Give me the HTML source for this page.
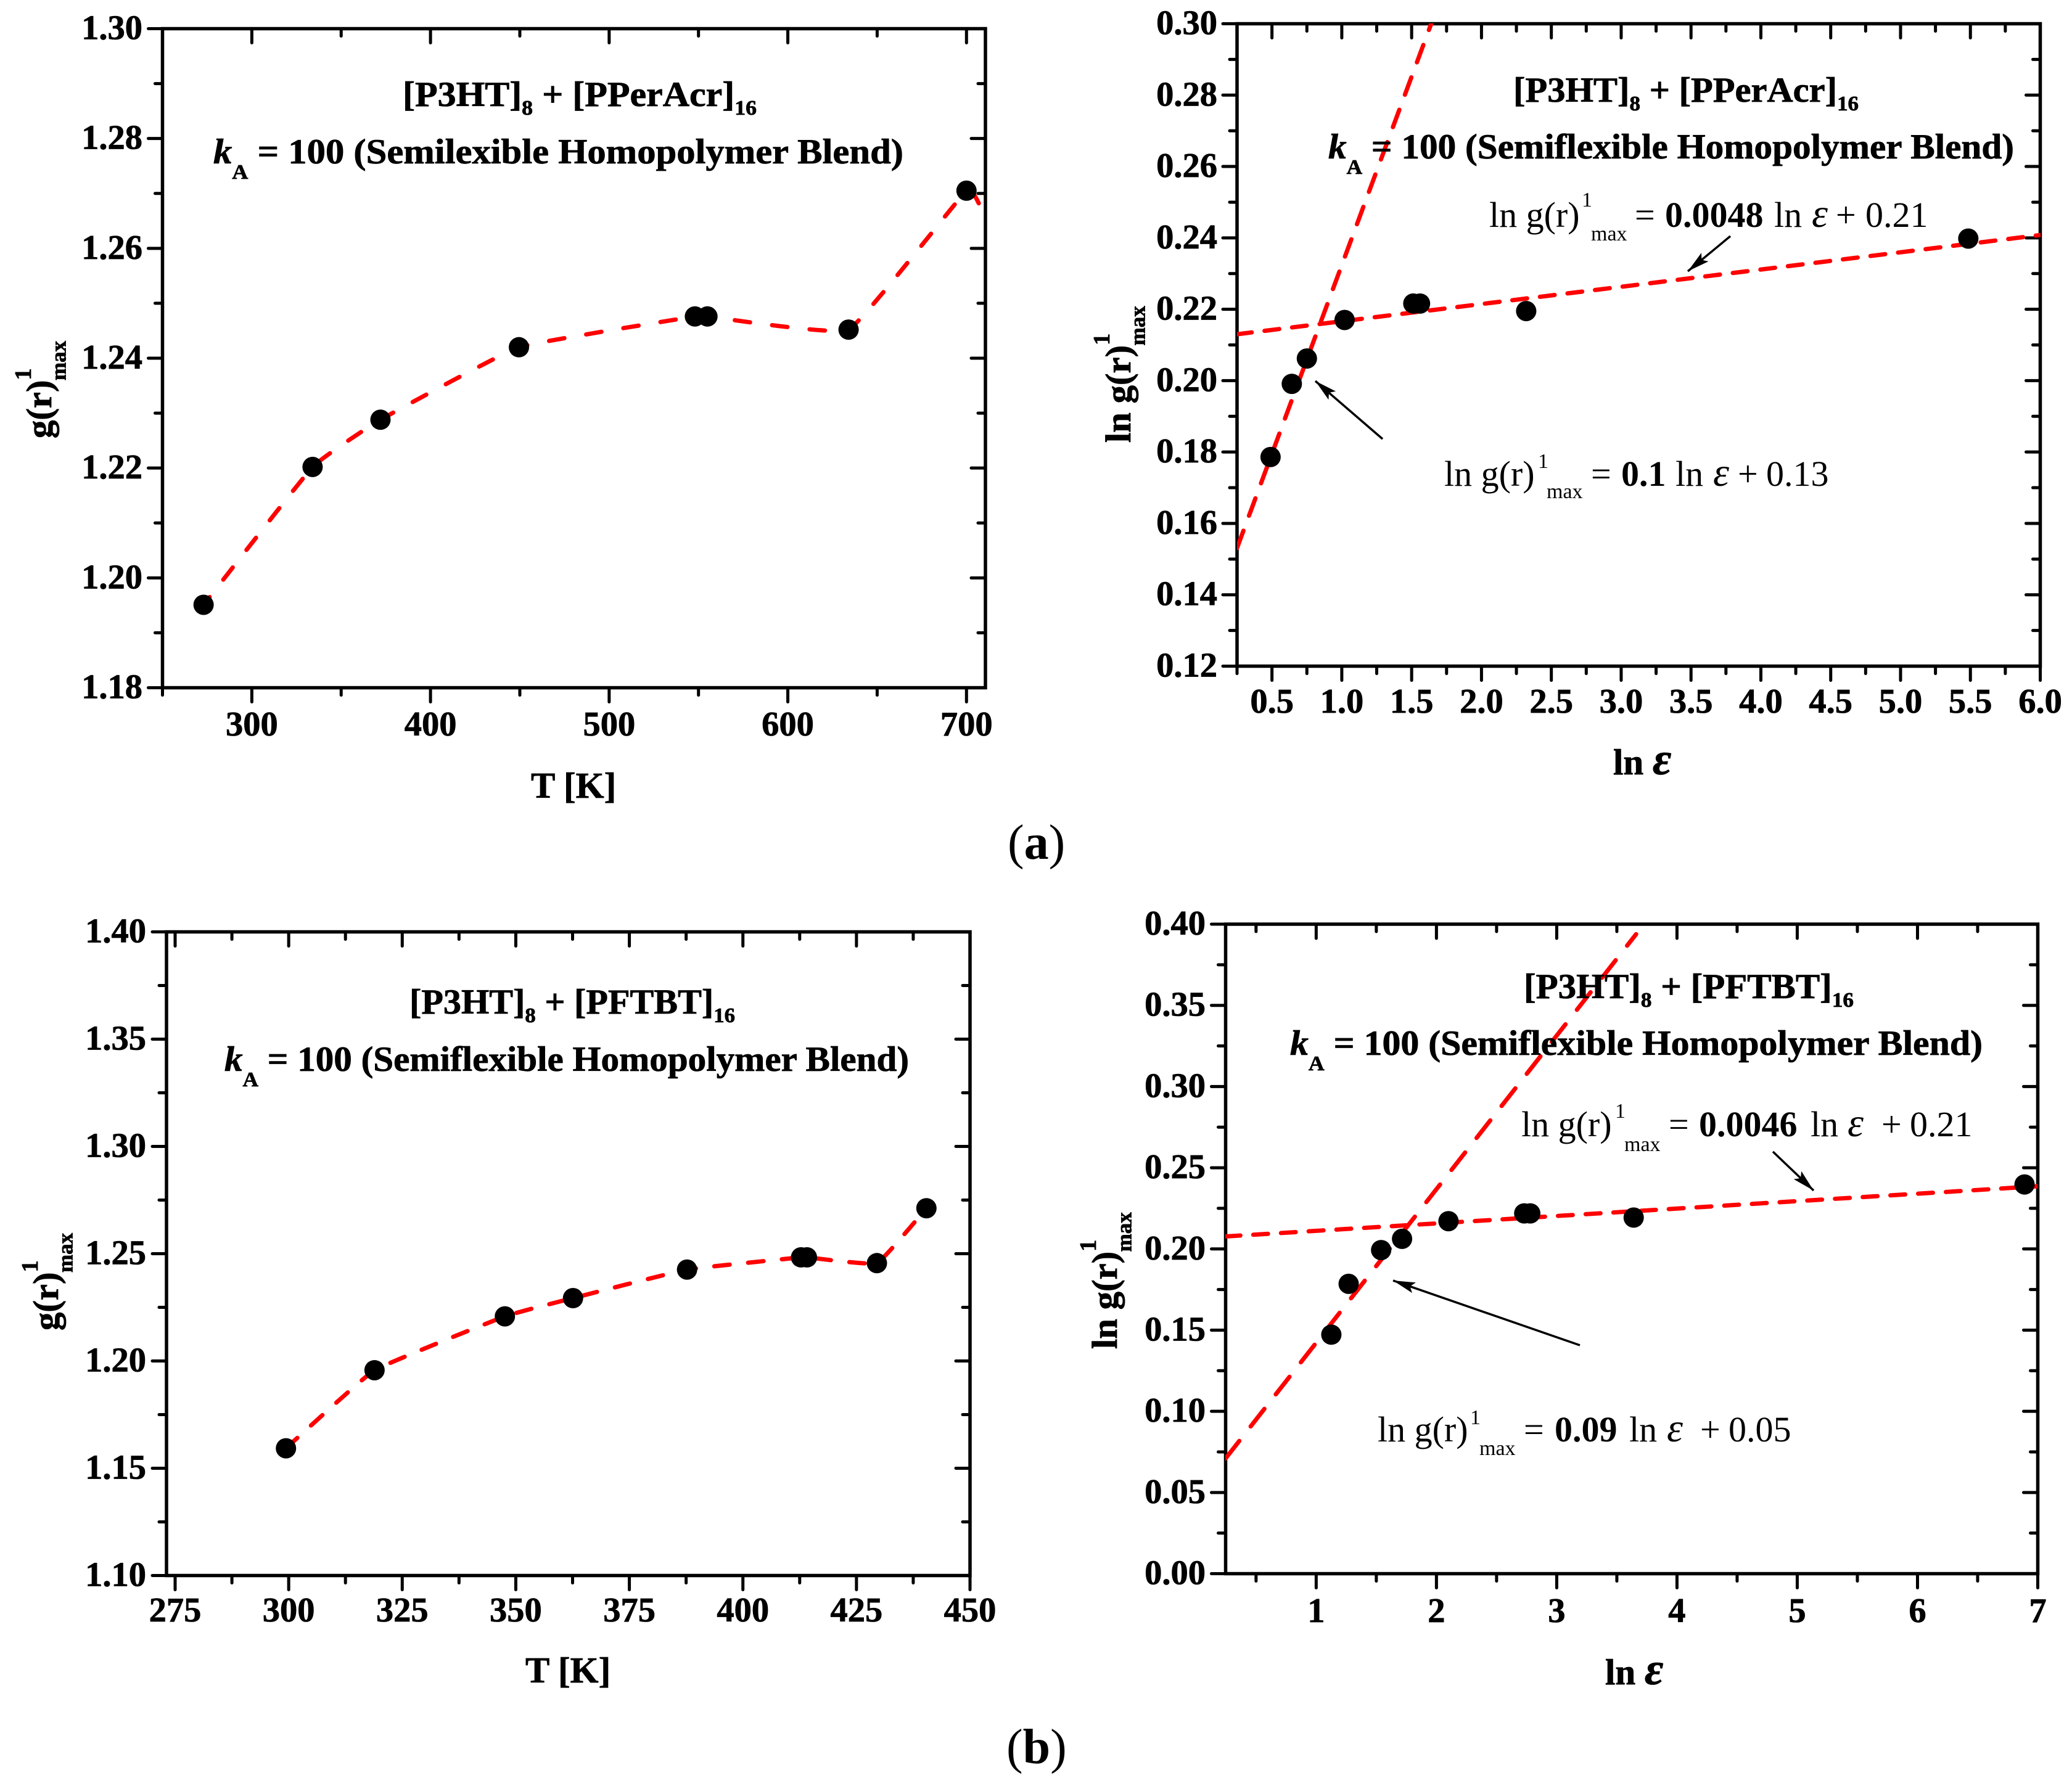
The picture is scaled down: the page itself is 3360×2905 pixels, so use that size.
<!DOCTYPE html>
<html lang="en">
<head>
<meta charset="utf-8">
<title>g(r) max versus temperature and ln epsilon</title>
<style>
html,body{margin:0;padding:0;background:#fff;}
svg{display:block;}
text{font-family:"Liberation Serif",serif;fill:#000;}
.b{font-weight:bold;}
.tick{font-weight:bold;font-size:56.5px;stroke:#000;stroke-width:.8px;}
.t{font-weight:bold;font-size:57px;stroke:#000;stroke-width:.8px;}
.ax{font-weight:bold;font-size:59px;stroke:#000;stroke-width:.8px;}
.sm{font-size:34px;}
.sup{font-size:37px;}
.eq{font-size:58px;}
.ge{font-size:66px;font-style:italic;}
</style>
</head>
<body>
<svg id="figure" xmlns="http://www.w3.org/2000/svg" width="3360" height="2905" viewBox="0 0 3360 2905">
<defs>
<marker id="arrow-head" markerUnits="userSpaceOnUse" markerWidth="40" markerHeight="24" refX="36" refY="12" orient="auto"><path d="M0 3 L36 12 L0 21 L7 12 Z" fill="#000"/></marker>
<clipPath id="clip-a"><rect x="263" y="46" width="1335" height="1069"/></clipPath>
<clipPath id="clip-b"><rect x="2006" y="38" width="1303" height="1042"/></clipPath>
<clipPath id="clip-c"><rect x="270" y="1511" width="1303" height="1044"/></clipPath>
<clipPath id="clip-d"><rect x="1987" y="1499" width="1317" height="1054"/></clipPath>
</defs>
<rect width="3360" height="2905" fill="#fff"/>

<g id="panel-a"></g>
<g id="panel-b"></g>
<g id="panel-c"></g>
<g id="panel-d"></g>

<!-- Panel A text -->
<text class="t" x="653" y="172" textLength="574" lengthAdjust="spacingAndGlyphs">[P3HT]<tspan class="sm" dy="14">8</tspan><tspan dy="-14"> + [PPerAcr]</tspan><tspan class="sm" dy="14">16</tspan></text>
<text class="t" x="346" y="265" textLength="1119" lengthAdjust="spacingAndGlyphs"><tspan font-style="italic">k</tspan><tspan class="sm" dy="25">A</tspan><tspan dy="-25"> = 100 (Semilexible Homopolymer Blend)</tspan></text>
<text class="ax" x="861" y="1294">T [K]</text>
<text class="t" transform="translate(83,711) rotate(-90) scale(1.03,1.03)">g(r)<tspan class="sup" dy="-32">1</tspan><tspan class="sm" dx="-19" dy="55">max</tspan></text>

<!-- Panel B text -->
<text class="t" x="2454" y="165" textLength="560" lengthAdjust="spacingAndGlyphs">[P3HT]<tspan class="sm" dy="14">8</tspan><tspan dy="-14"> + [PPerAcr]</tspan><tspan class="sm" dy="14">16</tspan></text>
<text class="t" x="2154" y="257" textLength="1112" lengthAdjust="spacingAndGlyphs"><tspan font-style="italic">k</tspan><tspan class="sm" dy="25">A</tspan><tspan dy="-25"> = 100 (Semiflexible Homopolymer Blend)</tspan></text>
<text class="ax" x="2616" y="1256">ln <tspan font-style="italic" font-size="74">ε</tspan></text>
<text class="t" transform="translate(1833,718) rotate(-90) scale(1.03,1.03)">ln g(r)<tspan class="sup" dy="-33">1</tspan><tspan class="sm" dx="-19" dy="56">max</tspan></text>
<text class="eq"><tspan x="2415" y="368">ln g(r)</tspan><tspan class="sm" x="2565" y="335">1</tspan><tspan class="sm" x="2580" y="390">max</tspan><tspan x="2651" y="368">=</tspan><tspan class="b" x="2700" y="368">0.0048</tspan><tspan x="2877" y="368">ln</tspan><tspan class="ge" x="2938" y="368">ε</tspan><tspan x="2977" y="368">+</tspan><tspan x="3025" y="368">0.21</tspan></text>
<text class="eq"><tspan x="2342" y="788">ln g(r)</tspan><tspan class="sm" x="2494" y="759">1</tspan><tspan class="sm" x="2508" y="808">max</tspan><tspan x="2580" y="788">=</tspan><tspan class="b" x="2629" y="788">0.1</tspan><tspan x="2717" y="788">ln</tspan><tspan class="ge" x="2778" y="788">ε</tspan><tspan x="2818" y="788">+</tspan><tspan x="2864" y="788">0.13</tspan></text>
<line x1="2806" y1="383" x2="2737" y2="440" stroke="#000" stroke-width="3.5" marker-end="url(#arrow-head)"/>
<line x1="2242" y1="712" x2="2133" y2="618" stroke="#000" stroke-width="3.5" marker-end="url(#arrow-head)"/>

<!-- Panel C text -->
<text class="t" x="664" y="1644" textLength="528" lengthAdjust="spacingAndGlyphs">[P3HT]<tspan class="sm" dy="14">8</tspan><tspan dy="-14"> + [PFTBT]</tspan><tspan class="sm" dy="14">16</tspan></text>
<text class="t" x="364" y="1737" textLength="1110" lengthAdjust="spacingAndGlyphs"><tspan font-style="italic">k</tspan><tspan class="sm" dy="25">A</tspan><tspan dy="-25"> = 100 (Semiflexible Homopolymer Blend)</tspan></text>
<text class="ax" x="852" y="2729">T [K]</text>
<text class="t" transform="translate(94,2158) rotate(-90) scale(1.03,1.03)">g(r)<tspan class="sup" dy="-32">1</tspan><tspan class="sm" dx="-19" dy="55">max</tspan></text>

<!-- Panel D text -->
<text class="t" x="2471" y="1619" textLength="535" lengthAdjust="spacingAndGlyphs">[P3HT]<tspan class="sm" dy="14">8</tspan><tspan dy="-14"> + [PFTBT]</tspan><tspan class="sm" dy="14">16</tspan></text>
<text class="t" x="2092" y="1711" textLength="1123" lengthAdjust="spacingAndGlyphs"><tspan font-style="italic">k</tspan><tspan class="sm" dy="25">A</tspan><tspan dy="-25"> = 100 (Semiflexible Homopolymer Blend)</tspan></text>
<text class="ax" x="2603" y="2732">ln <tspan font-style="italic" font-size="74">ε</tspan></text>
<text class="t" transform="translate(1811,2188) rotate(-90) scale(1.03,1.03)">ln g(r)<tspan class="sup" dy="-33">1</tspan><tspan class="sm" dx="-19" dy="56">max</tspan></text>
<text class="eq"><tspan x="2467" y="1843">ln g(r)</tspan><tspan class="sm" x="2619" y="1813">1</tspan><tspan class="sm" x="2634" y="1867">max</tspan><tspan x="2706" y="1843">=</tspan><tspan class="b" x="2755" y="1843">0.0046</tspan><tspan x="2936" y="1843">ln</tspan><tspan class="ge" x="2996" y="1843">ε</tspan><tspan x="3051" y="1843">+</tspan><tspan x="3097" y="1843">0.21</tspan></text>
<text class="eq"><tspan x="2234" y="2338">ln g(r)</tspan><tspan class="sm" x="2384" y="2310">1</tspan><tspan class="sm" x="2399" y="2360">max</tspan><tspan x="2471" y="2338">=</tspan><tspan class="b" x="2521" y="2338">0.09</tspan><tspan x="2642" y="2338">ln</tspan><tspan class="ge" x="2703" y="2338">ε</tspan><tspan x="2757" y="2338">+</tspan><tspan x="2803" y="2338">0.05</tspan></text>
<line x1="2875" y1="1868" x2="2941" y2="1931" stroke="#000" stroke-width="3.5" marker-end="url(#arrow-head)"/>
<line x1="2562" y1="2182" x2="2259" y2="2077" stroke="#000" stroke-width="3.5" marker-end="url(#arrow-head)"/>

<!-- Figure captions -->
<text x="1634" y="1393" font-size="80">(<tspan class="b">a</tspan>)</text>
<text x="1632" y="2860" font-size="80">(<tspan class="b">b</tspan>)</text>
</svg>

<script>
// Panel A: g(r) max vs T, PPerAcr blend
const aTemp = [273, 334, 372, 449.5, 548, 555, 634, 700];
const aPeak = [1.1951, 1.2202, 1.2288, 1.242, 1.2476, 1.2476, 1.2452, 1.2705];
const aCurveTemp = [273, 334, 372, 449.5, 548, 555, 634, 700, 710];
const aCurvePeak = [1.1951, 1.2202, 1.2288, 1.242, 1.2476, 1.2476, 1.2452, 1.2705, 1.2658];
const aXTicks = ['300', '400', '500', '600', '700'];
const aYTicks = ['1.18', '1.20', '1.22', '1.24', '1.26', '1.28', '1.30'];

// Panel B: ln g(r) max vs ln epsilon, PPerAcr blend
const bLnEps = [0.49, 0.642, 0.75, 1.02, 1.512, 1.56, 2.32, 5.485];
const bLnPeak = [0.1786, 0.1991, 0.2062, 0.217, 0.2216, 0.2216, 0.2195, 0.2398];
const bSteepEps = [0.25, 1.64];
const bSteepPeak = [0.1531, 0.3];
const bShallowEps = [0.25, 6.0];
const bShallowPeak = [0.213, 0.2408];
const bXTicks = ['0.5', '1.0', '1.5', '2.0', '2.5', '3.0', '3.5', '4.0', '4.5', '5.0', '5.5', '6.0'];
const bYTicks = ['0.12', '0.14', '0.16', '0.18', '0.20', '0.22', '0.24', '0.26', '0.28', '0.30'];

// Panel C: g(r) max vs T, PFTBT blend
const cTemp = [299.4, 318.9, 347.6, 362.6, 387.7, 412.8, 414.1, 429.5, 440.4];
const cPeak = [1.1593, 1.1957, 1.2208, 1.2293, 1.2426, 1.2483, 1.2483, 1.2456, 1.2712];
const cXTicks = ['275', '300', '325', '350', '375', '400', '425', '450'];
const cYTicks = ['1.10', '1.15', '1.20', '1.25', '1.30', '1.35', '1.40'];

// Panel D: ln g(r) max vs ln epsilon, PFTBT blend
const dLnEps = [1.126, 1.27, 1.54, 1.714, 2.1, 2.73, 2.78, 3.64, 6.89];
const dLnPeak = [0.1472, 0.1785, 0.1993, 0.2062, 0.2171, 0.2219, 0.2219, 0.2193, 0.2397];
const dSteepEps = [0.247, 3.66];
const dSteepPeak = [0.071, 0.3938];
const dShallowEps = [0.247, 7.0];
const dShallowPeak = [0.2077, 0.2386];
const dXTicks = ['1', '2', '3', '4', '5', '6', '7'];
const dYTicks = ['0.00', '0.05', '0.10', '0.15', '0.20', '0.25', '0.30', '0.35', '0.40'];

const NS = 'http://www.w3.org/2000/svg';

function scale(d0, d1, r0, r1) {
  return function (v) { return r0 + (v - d0) / (d1 - d0) * (r1 - r0); };
}

function setAll(node, attrs) {
  Object.keys(attrs).forEach(function (k) { node.setAttribute(k, attrs[k]); });
  return node;
}

function smoothPath(xs, ys, sx, sy) {
  const p = xs.map(function (x, i) { return [sx(x), sy(ys[i])]; });
  let d = 'M' + p[0][0].toFixed(1) + ' ' + p[0][1].toFixed(1);
  for (let i = 0; i < p.length - 1; i++) {
    const a = p[Math.max(i - 1, 0)], b = p[i], c = p[i + 1], e = p[Math.min(i + 2, p.length - 1)];
    const k = 0.05;
    d += ' C' + (b[0] + (c[0] - a[0]) * k).toFixed(1) + ' ' + (b[1] + (c[1] - a[1]) * k).toFixed(1) +
         ' ' + (c[0] - (e[0] - b[0]) * k).toFixed(1) + ' ' + (c[1] - (e[1] - b[1]) * k).toFixed(1) +
         ' ' + c[0].toFixed(1) + ' ' + c[1].toFixed(1);
  }
  return d;
}

function drawAxes(group, box, sx, sy, xTicks, yTicks, xMinorStep, yMinorStep, xBase, yRight) {
  const frame = document.createElementNS(NS, 'rect');
  
  
  setAll(frame, { x: box.l, y: box.t, width: box.r - box.l, height: box.b - box.t, fill: 'none', stroke: '#000', 'stroke-width': 5.5 });
  group.appendChild(frame);

  const xVals = xTicks.map(Number);
  const yVals = yTicks.map(Number);
  const xMinor = [];
  for (let v = xVals[0]; v >= sx.min - 1e-9; v -= xMinorStep) { xMinor.push(v); }
  for (let v = xVals[0] + xMinorStep; v <= sx.max + 1e-9; v += xMinorStep) { xMinor.push(v); }
  const yMinor = [];
  for (let v = yVals[0]; v <= sy.max + 1e-9; v += yMinorStep) { yMinor.push(v); }

  xMinor.forEach(function (v) {
    const major = xVals.some(function (m) { return Math.abs(m - v) < 1e-6; });
    const len = major ? 23 : 12;
    [[box.b, box.b + len], [box.t, box.t + len]].forEach(function (seg) {
      const tick = document.createElementNS(NS, 'line');
      
      
      setAll(tick, { x1: sx(v), x2: sx(v), y1: seg[0], y2: seg[1], stroke: '#000', 'stroke-width': 5, 'stroke-linecap': 'round' });
      group.appendChild(tick);
    });
  });
  yMinor.forEach(function (v) {
    const major = yVals.some(function (m) { return Math.abs(m - v) < 1e-6; });
    const len = major ? 23 : 12;
    [[box.l, box.l - len], [box.r, box.r - len]].forEach(function (seg) {
      const tick = document.createElementNS(NS, 'line');
      
      
      setAll(tick, { y1: sy(v), y2: sy(v), x1: seg[0], x2: seg[1], stroke: '#000', 'stroke-width': 5, 'stroke-linecap': 'round' });
      group.appendChild(tick);
    });
  });
  xTicks.forEach(function (label) {
    const t = document.createElementNS(NS, 'text');
    
    
    setAll(t, { x: sx(Number(label)), y: xBase, 'text-anchor': 'middle', class: 'tick' });
    t.textContent = label;
    group.appendChild(t);
  });
  yTicks.forEach(function (label) {
    const t = document.createElementNS(NS, 'text');
    
    
    setAll(t, { x: yRight, y: sy(Number(label)) + 17, 'text-anchor': 'end', class: 'tick' });
    t.textContent = label;
    group.appendChild(t);
  });
}

function drawDots(group, xs, ys, sx, sy) {
  xs.forEach(function (x, i) {
    const dot = document.createElementNS(NS, 'circle');
    
    
    setAll(dot, { cx: sx(x), cy: sy(ys[i]), r: 16.5, fill: '#000' });
    group.appendChild(dot);
  });
}

function drawDashed(group, d, clip, dash, offset, width) {
  const path = document.createElementNS(NS, 'path');
  
  
  setAll(path, { d: d, fill: 'none', stroke: '#f00', 'stroke-width': width, 'stroke-linecap': 'round', 'stroke-dasharray': dash, 'stroke-dashoffset': offset, 'clip-path': 'url(#' + clip + ')' });
  group.appendChild(path);
}

function makeScales(box, xMin, xMax, yMin, yMax) {
  const sx = scale(xMin, xMax, box.l, box.r);
  const sy = scale(yMin, yMax, box.b, box.t);
  sx.min = xMin; sx.max = xMax; sy.min = yMin; sy.max = yMax;
  return { sx: sx, sy: sy };
}

// Panel A
(function () {
  const g = document.getElementById('panel-a');
  const box = { l: 263.5, r: 1598, t: 46.5, b: 1115.5 };
  const s = makeScales(box, 250, 710.6, 1.18, 1.30);
  drawAxes(g, box, s.sx, s.sy, aXTicks, aYTicks, 50, 0.01, 1193, 231);
  drawDashed(g, smoothPath(aCurveTemp, aCurvePeak, s.sx, s.sy), 'clip-a', '25 36', 9, 7);
  drawDots(g, aTemp, aPeak, s.sx, s.sy);
})();

// Panel B
(function () {
  const g = document.getElementById('panel-b');
  const box = { l: 2006, r: 3308.5, t: 38.5, b: 1080.5 };
  const s = makeScales(box, 0.25, 6.0, 0.12, 0.30);
  drawAxes(g, box, s.sx, s.sy, bXTicks, bYTicks, 0.25, 0.01, 1156, 1974);
  drawDashed(g, smoothPath(bSteepEps, bSteepPeak, s.sx, s.sy), 'clip-b', '30 26', 0, 7);
  drawDashed(g, smoothPath(bShallowEps, bShallowPeak, s.sx, s.sy), 'clip-b', '24 21', 0, 7);
  drawDots(g, bLnEps, bLnPeak, s.sx, s.sy);
})();

// Panel C
(function () {
  const g = document.getElementById('panel-c');
  const box = { l: 270, r: 1573, t: 1511.5, b: 2555.5 };
  const s = makeScales(box, 273.1, 450, 1.10, 1.40);
  drawAxes(g, box, s.sx, s.sy, cXTicks, cYTicks, 12.5, 0.025, 2630, 237);
  drawDashed(g, smoothPath(cTemp, cPeak, s.sx, s.sy), 'clip-c', '25 30', 0, 7);
  drawDots(g, cTemp, cPeak, s.sx, s.sy);
})();

// Panel D
(function () {
  const g = document.getElementById('panel-d');
  const box = { l: 1987.5, r: 3304.5, t: 1499, b: 2552.5 };
  const s = makeScales(box, 0.247, 7.0, 0.0, 0.40);
  drawAxes(g, box, s.sx, s.sy, dXTicks, dYTicks, 0.5, 0.025, 2631, 1955);
  drawDashed(g, smoothPath(dSteepEps, dSteepPeak, s.sx, s.sy), 'clip-d', '36 30', 0, 7);
  drawDashed(g, smoothPath(dShallowEps, dShallowPeak, s.sx, s.sy), 'clip-d', '24 21', 0, 7);
  drawDots(g, dLnEps, dLnPeak, s.sx, s.sy);
})();
</script>
</body>
</html>
